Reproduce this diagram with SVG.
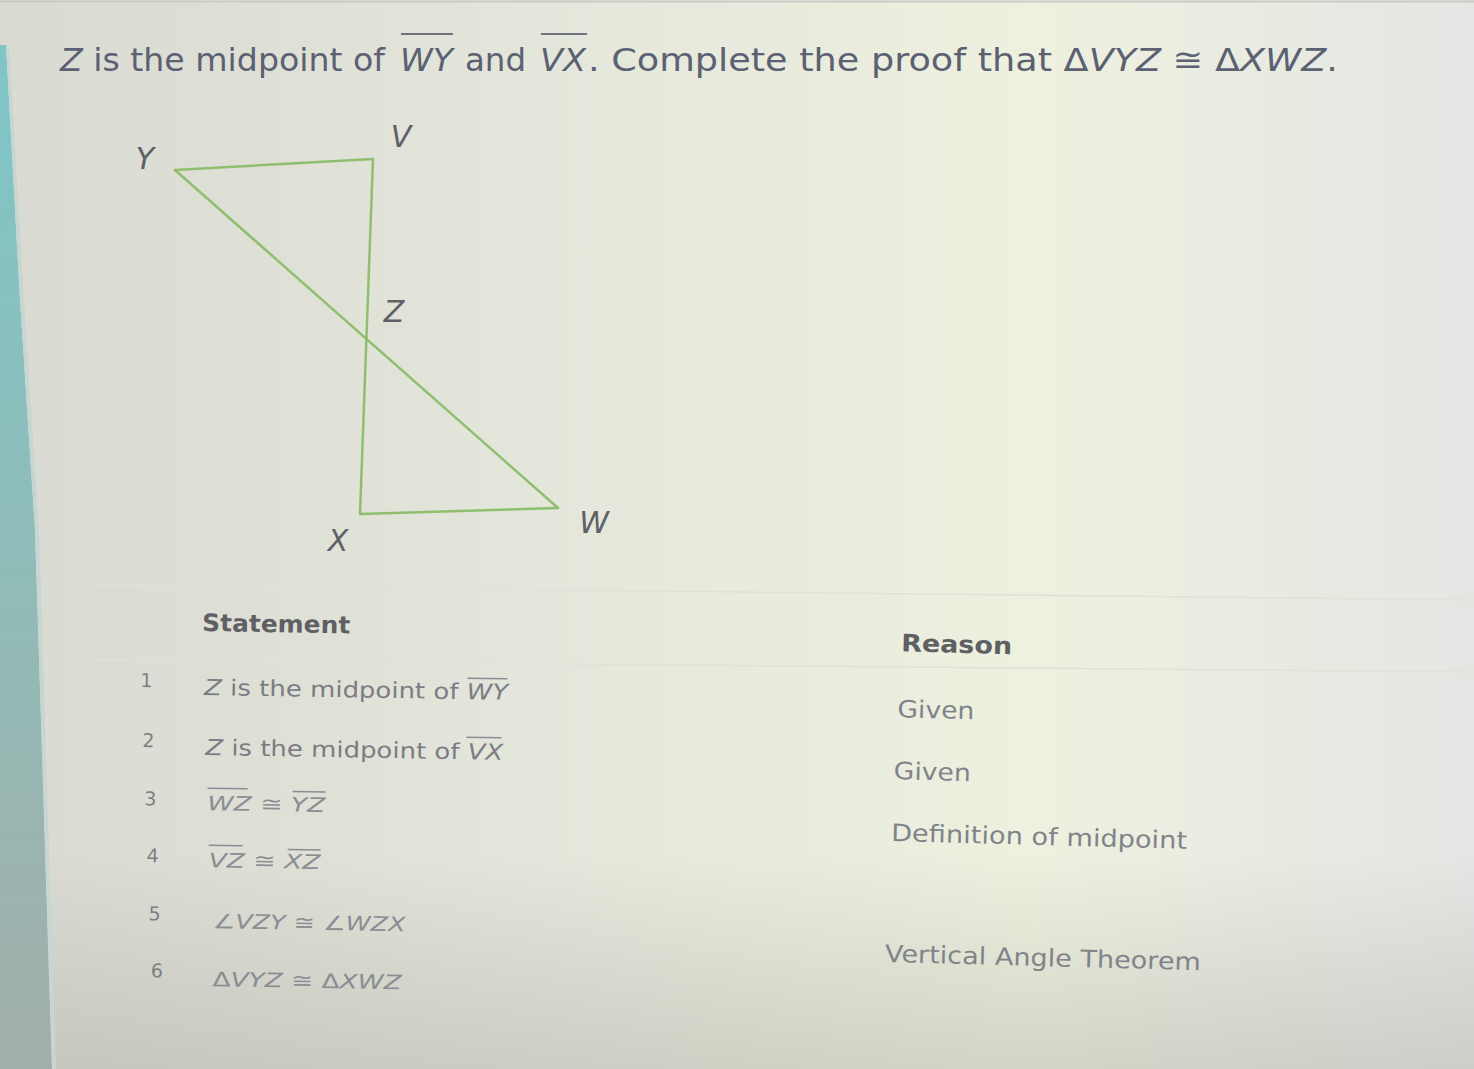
<svg xmlns="http://www.w3.org/2000/svg" width="1474" height="1069" viewBox="0 0 1474 1069">
  <defs>
    <linearGradient id="bg" x1="0" y1="0" x2="1" y2="0">
      <stop offset="0" stop-color="#d9dad2"/>
      <stop offset="0.45" stop-color="#e6e9dc"/>
      <stop offset="0.7" stop-color="#eef1df"/>
      <stop offset="1" stop-color="#e4e6e4"/>
    </linearGradient>
    <linearGradient id="shade" x1="0" y1="0" x2="0" y2="1">
      <stop offset="0.8" stop-color="#a0a098" stop-opacity="0"/>
      <stop offset="1" stop-color="#a0a098" stop-opacity="0.35"/>
    </linearGradient>
    <linearGradient id="teal" x1="0" y1="0" x2="0" y2="1">
      <stop offset="0" stop-color="#7fc6c8"/>
      <stop offset="0.5" stop-color="#8fbcb8"/>
      <stop offset="1" stop-color="#a2aeaa"/>
    </linearGradient>
    <style>
      .title { font-family: "DejaVu Sans", sans-serif; font-size: 32px; fill: #5b6172; }
      .it { font-style: italic; }
      .lbl { font-family: "DejaVu Sans", sans-serif; font-size: 30px; font-style: italic; fill: #5d6066; text-anchor: middle; }
      .edge { stroke: #8fbf6e; stroke-width: 2.5; fill: none; stroke-linecap: round; }
      .head { font-family: "DejaVu Sans", sans-serif; font-weight: bold; font-size: 24px; fill: #5e6064; }
      .num { font-family: "DejaVu Sans", sans-serif; font-size: 19px; fill: #7d7f80; }
      .st { font-family: "DejaVu Sans", sans-serif; font-size: 22px; fill: #7a7d84; }
      .st2 { font-family: "DejaVu Sans", sans-serif; font-size: 20px; fill: #8a8d92; }
      .rs { font-family: "DejaVu Sans", sans-serif; font-size: 24px; fill: #808489; }
      .ov { stroke: #6e7280; stroke-width: 1.8; }
      .ov2 { stroke: #8a8d95; stroke-width: 1.5; }
      .rule { stroke: #dfe2d6; stroke-width: 1.5; }
    </style>
  </defs>
  <rect x="0" y="0" width="1474" height="1069" fill="url(#bg)"/>
  <rect x="0" y="0" width="1474" height="1069" fill="url(#shade)"/>
  <line x1="0" y1="1.5" x2="1474" y2="1.5" stroke="#c9cbc6" stroke-width="2"/>
  <polygon points="0,45 6,45 20,300 35,530 52,1069 0,1069" fill="url(#teal)"/>
  <polygon points="6,45 9,45 24,300 39,530 56,1069 52,1069 35,530 20,300" fill="#c8d6d2"/>

  <!-- title -->
  <g id="title">
    <text class="title" x="60" y="71" textLength="325" lengthAdjust="spacingAndGlyphs"><tspan class="it">Z</tspan> is the midpoint of</text>
    <text class="title it" x="400" y="71" textLength="53" lengthAdjust="spacingAndGlyphs">WY</text>
    <text class="title" x="465" y="71" textLength="61" lengthAdjust="spacingAndGlyphs">and</text>
    <text class="title it" x="540" y="71" textLength="46" lengthAdjust="spacingAndGlyphs">VX</text>
    <text class="title" x="588" y="71" textLength="750" lengthAdjust="spacingAndGlyphs">. Complete the proof that Δ<tspan class="it">VYZ</tspan> ≅ Δ<tspan class="it">XWZ</tspan>.</text>
    <line class="ov" x1="401" y1="34" x2="453" y2="34"/>
    <line class="ov" x1="541" y1="34" x2="587" y2="34"/>
  </g>

  <!-- figure -->
  <g id="connectors">
    <line class="edge" x1="175" y1="170" x2="373" y2="159"/>
    <line class="edge" x1="373" y1="159" x2="360" y2="514"/>
    <line class="edge" x1="175" y1="170" x2="558" y2="508"/>
    <line class="edge" x1="360" y1="514" x2="558" y2="508"/>
  </g>
  <g id="node-Y"><text class="lbl" x="145" y="169">Y</text></g>
  <g id="node-V"><text class="lbl" x="401" y="147">V</text></g>
  <g id="node-Z"><text class="lbl" x="394" y="322">Z</text></g>
  <g id="node-X"><text class="lbl" x="338" y="551">X</text></g>
  <g id="node-W"><text class="lbl" x="594" y="533">W</text></g>

  <!-- table -->
  <g id="table">
    <line class="rule" x1="90" y1="585" x2="1474" y2="600"/>
    <line class="rule" x1="90" y1="660" x2="1474" y2="672"/>
    <g id="statements" transform="rotate(0.9 200 700)">
      <text class="head" x="201" y="631" textLength="148" lengthAdjust="spacingAndGlyphs">Statement</text>
      <text class="num" x="140" y="688">1</text>
      <text class="st" x="204" y="695" textLength="304" lengthAdjust="spacingAndGlyphs"><tspan class="it">Z</tspan> is the midpoint of <tspan class="it">WY</tspan></text>
      <line class="ov2" x1="467" y1="674" x2="507" y2="674"/>
      <text class="num" x="143" y="748">2</text>
      <text class="st" x="206" y="755" textLength="298" lengthAdjust="spacingAndGlyphs"><tspan class="it">Z</tspan> is the midpoint of <tspan class="it">VX</tspan></text>
      <line class="ov2" x1="467" y1="733" x2="502" y2="733"/>
      <text class="num" x="146" y="806">3</text>
      <text class="st2" x="209" y="810" textLength="118" lengthAdjust="spacingAndGlyphs"><tspan class="it">WZ</tspan> ≅ <tspan class="it">YZ</tspan></text>
      <line class="ov2" x1="209" y1="788" x2="249" y2="788"/>
      <line class="ov2" x1="294" y1="790" x2="327" y2="790"/>
      <text class="num" x="149" y="863">4</text>
      <text class="st2" x="211" y="867" textLength="112" lengthAdjust="spacingAndGlyphs"><tspan class="it">VZ</tspan> ≅ <tspan class="it">XZ</tspan></text>
      <line class="ov2" x1="211" y1="845" x2="245" y2="845"/>
      <line class="ov2" x1="290" y1="848" x2="323" y2="848"/>
      <text class="num" x="152" y="921">5</text>
      <text class="st2" x="216" y="928" textLength="193" lengthAdjust="spacingAndGlyphs">∠<tspan class="it">VZY</tspan> ≅ ∠<tspan class="it">WZX</tspan></text>
      <text class="num" x="155" y="978">6</text>
      <text class="st2" x="217" y="986" textLength="189" lengthAdjust="spacingAndGlyphs">Δ<tspan class="it">VYZ</tspan> ≅ Δ<tspan class="it">XWZ</tspan></text>
    </g>
    <g id="reasons" transform="rotate(1.5 890 800)">
      <text class="head" x="897" y="651" textLength="111" lengthAdjust="spacingAndGlyphs">Reason</text>
      <text class="rs" x="895" y="717" textLength="77" lengthAdjust="spacingAndGlyphs">Given</text>
      <text class="rs" x="893" y="779" textLength="77" lengthAdjust="spacingAndGlyphs">Given</text>
      <text class="rs" x="892" y="841" textLength="296" lengthAdjust="spacingAndGlyphs">Definition of midpoint</text>
      <text class="rs" x="889" y="962" textLength="316" lengthAdjust="spacingAndGlyphs">Vertical Angle Theorem</text>
    </g>
  </g>
</svg>
